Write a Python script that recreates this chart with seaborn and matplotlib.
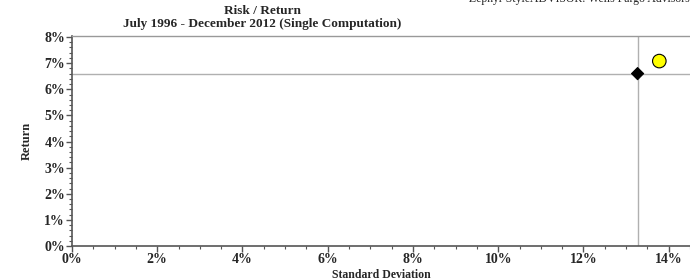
import matplotlib
matplotlib.use("Agg")
import matplotlib.pyplot as plt
import seaborn as sns
import pandas as pd
from matplotlib.ticker import MultipleLocator, FuncFormatter

# Data
names = ["Benchmark", "Manager"]
std_devs = [13.27, 13.78]
returns = [6.60, 7.08]
x_ticks = [0, 2, 4, 6, 8, 10, 12, 14]
y_ticks = [0, 1, 2, 3, 4, 5, 6, 7, 8]

sns.set_theme(style="white")
plt.rcParams['font.family'] = ['Liberation Serif', 'DejaVu Serif']

fig = plt.figure(figsize=(6.9, 2.8), dpi=100)
ax = fig.add_axes([72/690, 1 - 246/280, 1 - 72/690, 210/280])

df = pd.DataFrame({"name": names, "sd": std_devs, "ret": returns})

# reference lines through benchmark
ax.axvline(std_devs[0], color="#b0b0b0", lw=1, zorder=1)
ax.axhline(returns[0], color="#b0b0b0", lw=1, zorder=1)

sns.scatterplot(data=df, x="sd", y="ret", hue="name", style="name",
                palette={"Benchmark": "black", "Manager": "#ffff00"},
                markers={"Benchmark": "D", "Manager": "o"},
                edgecolor="black", linewidth=0.8,
                legend=False, ax=ax, zorder=3)
coll = ax.collections[-1]
coll.set_sizes([38, 95])

ax.set_xlim(0, 14.5)
ax.set_ylim(0, 8.04)
ax.set_xticks(x_ticks)
ax.set_yticks(y_ticks)
ax.xaxis.set_minor_locator(MultipleLocator(0.5))
ax.yaxis.set_minor_locator(MultipleLocator(0.2))
ax.xaxis.set_major_formatter(FuncFormatter(lambda v, p: f"{v:.0f}%"))
ax.yaxis.set_major_formatter(FuncFormatter(lambda v, p: f"{v:.0f}%"))

for lab in ax.get_xticklabels() + ax.get_yticklabels():
    lab.set_fontweight("bold")
    lab.set_fontsize(10)

ax.tick_params(axis="both", which="major", direction="out", length=4, width=1,
               color="#555555", pad=1, bottom=True, left=True)
ax.tick_params(axis="both", which="minor", direction="out", length=2, width=0.8,
               color="#555555", bottom=True, left=True)

ax.spines["right"].set_visible(False)
ax.spines["top"].set_color("#999999")
ax.spines["top"].set_linewidth(1)
ax.spines["left"].set_color("#555555")
ax.spines["bottom"].set_color("#555555")
ax.spines["left"].set_linewidth(1.2)
ax.spines["bottom"].set_linewidth(1.2)

ax.set_xlabel("Standard Deviation", fontsize=8.5, fontweight="bold", labelpad=2)
ax.set_ylabel("Return", fontsize=9, fontweight="bold", labelpad=8)

fig.text(262/690, 1 - 11/280, "Risk / Return", ha="center", va="center",
         fontsize=9.5, fontweight="bold")
fig.text(262/690, 1 - 24/280, "July 1996 - December 2012 (Single Computation)",
         ha="center", va="center", fontsize=9.5, fontweight="bold")
fig.text(690/690, 1 + 1/280, "Zephyr StyleADVISOR: Wells Fargo Advisors",
         ha="right", va="center", fontsize=8.5)

fig.savefig("out.png", dpi=100)
